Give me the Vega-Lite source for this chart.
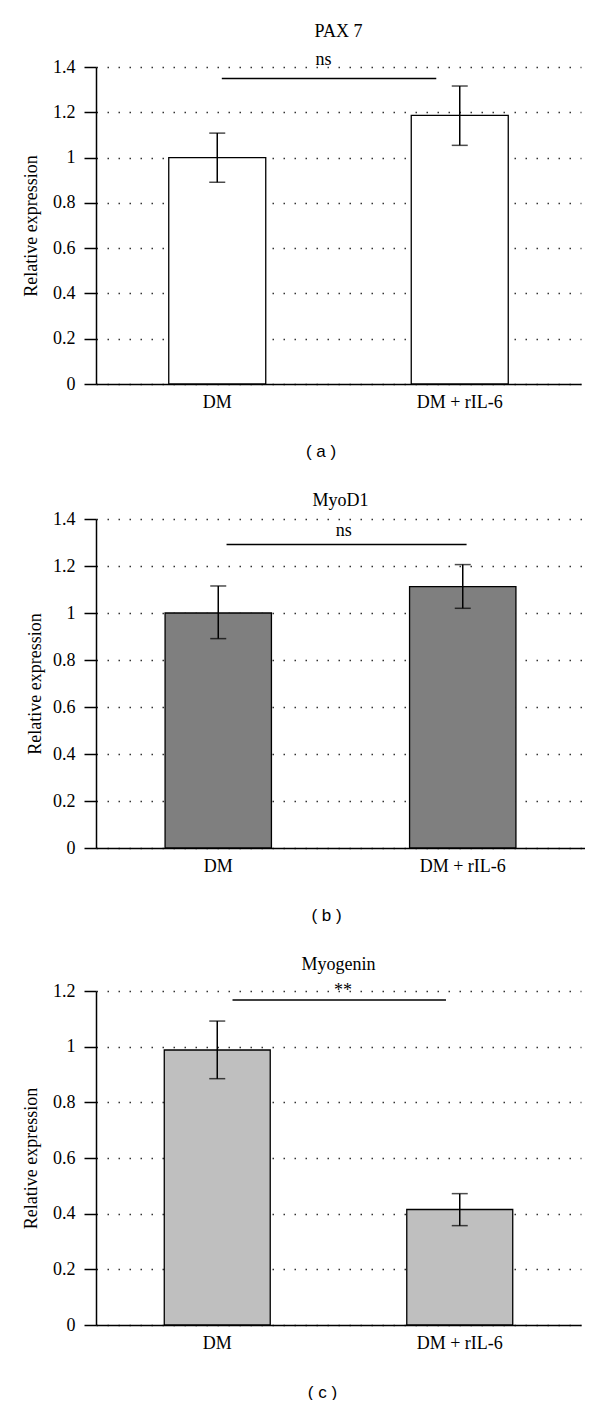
{
  "$schema": "https://vega.github.io/schema/vega-lite/v6.json",
  "background": "white",
  "padding": {"left": 22, "top": 23, "right": 0, "bottom": 0},
  "columns": 1,
  "align": "none",
  "spacing": 33,
  "datasets": {
    "a": [
      {"group": "DM", "value": 1.0, "lo": 0.891, "hi": 1.108},
      {"group": "DM + rIL-6", "value": 1.186, "lo": 1.054, "hi": 1.316}
    ],
    "aSig": [{"from": "DM", "to": "DM + rIL-6", "y": 1.349, "ty": 1.408, "label": "ns"}],
    "b": [
      {"group": "DM", "value": 1.0, "lo": 0.891, "hi": 1.115},
      {"group": "DM + rIL-6", "value": 1.112, "lo": 1.02, "hi": 1.206}
    ],
    "bSig": [{"from": "DM", "to": "DM + rIL-6", "y": 1.292, "ty": 1.329, "label": "ns"}],
    "c": [
      {"group": "DM", "value": 0.988, "lo": 0.885, "hi": 1.092},
      {"group": "DM + rIL-6", "value": 0.415, "lo": 0.357, "hi": 0.472}
    ],
    "cSig": [{"from": "DM", "to": "DM + rIL-6", "y": 1.168, "ty": 1.182, "label": "**"}]
  },
  "concat": [
    {
      "width": 485,
      "height": 317,
      "title": {"text": "PAX 7", "offset": 10},
      "layer": [
        {
          "data": {"name": "a"},
          "mark": {"type": "bar", "fill": "white", "stroke": "black", "strokeWidth": 1.3},
          "encoding": {
            "x": {"field": "group", "type": "nominal", "sort": null,
                  "scale": {"paddingInner": 0.6, "paddingOuter": 0.3},
                  "axis": {"title": "( a )", "titleX": 224.5}},
            "y": {"field": "value", "type": "quantitative",
                  "scale": {"domain": [0, 1.4], "nice": false},
                  "axis": {"title": "Relative expression", "values": [0, 0.2, 0.4, 0.6, 0.8, 1, 1.2, 1.4], "format": "~g"}}
          }
        },
        {
          "data": {"name": "a"},
          "mark": {"type": "rule", "color": "black", "strokeWidth": 1.5},
          "encoding": {
            "x": {"field": "group", "type": "nominal", "sort": null},
            "y": {"field": "lo", "type": "quantitative"},
            "y2": {"field": "hi"}
          }
        },
        {
          "data": {"name": "a"},
          "mark": {"type": "tick", "color": "black", "size": 16, "thickness": 1.5},
          "encoding": {
            "x": {"field": "group", "type": "nominal", "sort": null},
            "y": {"field": "lo", "type": "quantitative"}
          }
        },
        {
          "data": {"name": "a"},
          "mark": {"type": "tick", "color": "black", "size": 16, "thickness": 1.5},
          "encoding": {
            "x": {"field": "group", "type": "nominal", "sort": null},
            "y": {"field": "hi", "type": "quantitative"}
          }
        },
        {
          "data": {"name": "aSig"},
          "mark": {"type": "rule", "color": "black", "strokeWidth": 1.5},
          "encoding": {
            "x": {"field": "from", "type": "nominal", "bandPosition": 0.547},
            "x2": {"field": "to", "bandPosition": 0.258},
            "y": {"field": "y", "type": "quantitative"}
          }
        },
        {
          "data": {"name": "aSig"},
          "mark": {"type": "text", "font": "Liberation Serif", "fontSize": 18, "baseline": "alphabetic", "align": "center", "color": "black"},
          "encoding": {
            "x": {"field": "from", "type": "nominal", "bandPosition": 1.595},
            "y": {"field": "ty", "type": "quantitative"},
            "text": {"field": "label"}
          }
        }
      ]
    },
    {
      "width": 489,
      "height": 329,
      "title": {"text": "MyoD1", "offset": 0},
      "layer": [
        {
          "data": {"name": "b"},
          "mark": {"type": "bar", "fill": "#7f7f7f", "stroke": "black", "strokeWidth": 1.3},
          "encoding": {
            "x": {"field": "group", "type": "nominal", "sort": null,
                  "scale": {"paddingInner": 0.565, "paddingOuter": 0.2825},
                  "axis": {"title": "( b )", "titleX": 230}},
            "y": {"field": "value", "type": "quantitative",
                  "scale": {"domain": [0, 1.4], "nice": false},
                  "axis": {"title": "Relative expression", "titlePadding": 8, "values": [0, 0.2, 0.4, 0.6, 0.8, 1, 1.2, 1.4], "format": "~g"}}
          }
        },
        {
          "data": {"name": "b"},
          "mark": {"type": "rule", "color": "black", "strokeWidth": 1.5},
          "encoding": {
            "x": {"field": "group", "type": "nominal", "sort": null},
            "y": {"field": "lo", "type": "quantitative"},
            "y2": {"field": "hi"}
          }
        },
        {
          "data": {"name": "b"},
          "mark": {"type": "tick", "color": "black", "size": 16, "thickness": 1.5},
          "encoding": {
            "x": {"field": "group", "type": "nominal", "sort": null},
            "y": {"field": "lo", "type": "quantitative"}
          }
        },
        {
          "data": {"name": "b"},
          "mark": {"type": "tick", "color": "black", "size": 16, "thickness": 1.5},
          "encoding": {
            "x": {"field": "group", "type": "nominal", "sort": null},
            "y": {"field": "hi", "type": "quantitative"}
          }
        },
        {
          "data": {"name": "bSig"},
          "mark": {"type": "rule", "color": "black", "strokeWidth": 1.5},
          "encoding": {
            "x": {"field": "from", "type": "nominal", "bandPosition": 0.578},
            "x2": {"field": "to", "bandPosition": 0.536},
            "y": {"field": "y", "type": "quantitative"}
          }
        },
        {
          "data": {"name": "bSig"},
          "mark": {"type": "text", "font": "Liberation Serif", "fontSize": 18, "baseline": "alphabetic", "align": "center", "color": "black"},
          "encoding": {
            "x": {"field": "from", "type": "nominal", "bandPosition": 1.68},
            "y": {"field": "ty", "type": "quantitative"},
            "text": {"field": "label"}
          }
        }
      ]
    },
    {
      "width": 485,
      "height": 334,
      "title": {"text": "Myogenin", "offset": 5, "dy": -3},
      "layer": [
        {
          "data": {"name": "c"},
          "mark": {"type": "bar", "fill": "#bfbfbf", "stroke": "black", "strokeWidth": 1.3},
          "encoding": {
            "x": {"field": "group", "type": "nominal", "sort": null,
                  "scale": {"paddingInner": 0.563, "paddingOuter": 0.2815},
                  "axis": {"title": "( c )", "titleX": 226}},
            "y": {"field": "value", "type": "quantitative",
                  "scale": {"domain": [0, 1.2], "nice": false},
                  "axis": {"title": "Relative expression", "values": [0, 0.2, 0.4, 0.6, 0.8, 1, 1.2], "format": "~g"}}
          }
        },
        {
          "data": {"name": "c"},
          "mark": {"type": "rule", "color": "black", "strokeWidth": 1.5},
          "encoding": {
            "x": {"field": "group", "type": "nominal", "sort": null},
            "y": {"field": "lo", "type": "quantitative"},
            "y2": {"field": "hi"}
          }
        },
        {
          "data": {"name": "c"},
          "mark": {"type": "tick", "color": "black", "size": 16, "thickness": 1.5},
          "encoding": {
            "x": {"field": "group", "type": "nominal", "sort": null},
            "y": {"field": "lo", "type": "quantitative"}
          }
        },
        {
          "data": {"name": "c"},
          "mark": {"type": "tick", "color": "black", "size": 16, "thickness": 1.5},
          "encoding": {
            "x": {"field": "group", "type": "nominal", "sort": null},
            "y": {"field": "hi", "type": "quantitative"}
          }
        },
        {
          "data": {"name": "cSig"},
          "mark": {"type": "rule", "color": "black", "strokeWidth": 1.5},
          "encoding": {
            "x": {"field": "from", "type": "nominal", "bandPosition": 0.644},
            "x2": {"field": "to", "bandPosition": 0.37},
            "y": {"field": "y", "type": "quantitative"}
          }
        },
        {
          "data": {"name": "cSig"},
          "mark": {"type": "text", "font": "Liberation Serif", "fontSize": 18, "baseline": "alphabetic", "align": "center", "color": "black"},
          "encoding": {
            "x": {"field": "from", "type": "nominal", "bandPosition": 1.686},
            "y": {"field": "ty", "type": "quantitative"},
            "text": {"field": "label"}
          }
        }
      ]
    }
  ],
  "config": {
    "view": {"stroke": null},
    "font": "Liberation Serif",
    "title": {"font": "Liberation Serif", "fontSize": 18, "fontWeight": "normal", "color": "black", "anchor": "middle"},
    "axis": {
      "domainColor": "black", "domainWidth": 1.5,
      "tickColor": "black", "tickWidth": 1.5,
      "labelFont": "Liberation Serif", "labelFontSize": 18, "labelColor": "black",
      "titleFont": "Liberation Serif", "titleFontSize": 18, "titleFontWeight": "normal", "titleColor": "black"
    },
    "axisY": {
      "grid": true, "gridColor": "#333333", "gridDash": [1.5, 9.5], "gridWidth": 1.5,
      "tickSize": 12, "labelPadding": 9, "titlePadding": 12, "labelFlush": false
    },
    "axisX": {
      "grid": false, "ticks": false, "tickSize": 0, "labelPadding": 9, "labelAngle": 0,
      "titleFont": "Liberation Sans", "titleFontSize": 17, "titlePadding": 32
    }
  }
}
